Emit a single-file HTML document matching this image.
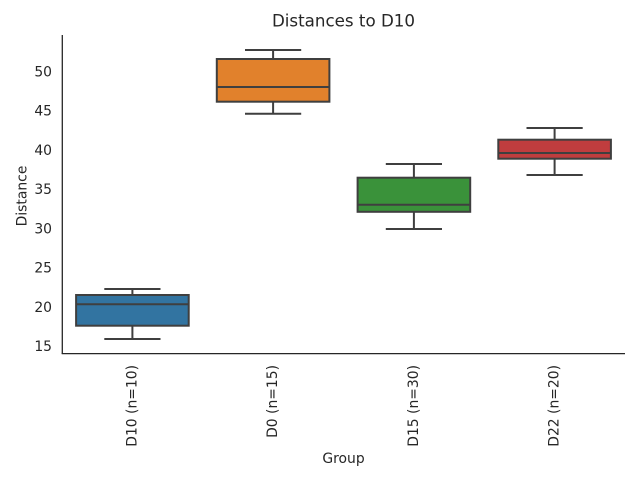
<!DOCTYPE html>
<html>
<head>
<meta charset="utf-8">
<style>
  html, body { margin: 0; padding: 0; background: #ffffff; }
  svg { display: block; }
  text { font-family: "DejaVu Sans", "Liberation Sans", sans-serif; fill: #262626; }
</style>
</head>
<body>
<svg width="640" height="480" viewBox="0 0 640 480" xmlns="http://www.w3.org/2000/svg">
  <rect x="0" y="0" width="640" height="480" fill="#ffffff"/>

  <!-- Title -->
  <text x="343.5" y="26.5" font-size="16.7" text-anchor="middle">Distances to D10</text>

  <!-- Y tick labels -->
  <g font-size="13.9" text-anchor="end">
    <text x="52" y="76.3">50</text>
    <text x="52" y="115.5">45</text>
    <text x="52" y="154.8">40</text>
    <text x="52" y="194.0">35</text>
    <text x="52" y="233.3">30</text>
    <text x="52" y="272.5">25</text>
    <text x="52" y="311.8">20</text>
    <text x="52" y="351.0">15</text>
  </g>

  <!-- Y label -->
  <text transform="translate(26.5,196) rotate(-90)" font-size="13.9" text-anchor="middle">Distance</text>

  <!-- Boxes -->
  <g stroke="#3f3f3f" stroke-width="2" fill="none">
    <!-- D10 -->
    <line x1="132.4" y1="289" x2="132.4" y2="295"/>
    <line x1="132.4" y1="325.7" x2="132.4" y2="339"/>
    <line x1="104.3" y1="289" x2="160.5" y2="289"/>
    <line x1="104.3" y1="339" x2="160.5" y2="339"/>
    <rect x="76.1" y="295" width="112.6" height="30.7" fill="#3274a1"/>
    <line x1="76.1" y1="304.3" x2="188.7" y2="304.3"/>

    <!-- D0 -->
    <line x1="273.1" y1="50" x2="273.1" y2="59"/>
    <line x1="273.1" y1="101.7" x2="273.1" y2="113.7"/>
    <line x1="245" y1="50" x2="301.2" y2="50"/>
    <line x1="245" y1="113.7" x2="301.2" y2="113.7"/>
    <rect x="216.8" y="59" width="112.6" height="42.7" fill="#e1812c"/>
    <line x1="216.8" y1="87" x2="329.4" y2="87"/>

    <!-- D15 -->
    <line x1="413.9" y1="164" x2="413.9" y2="177.7"/>
    <line x1="413.9" y1="211.8" x2="413.9" y2="229"/>
    <line x1="385.8" y1="164" x2="442" y2="164"/>
    <line x1="385.8" y1="229" x2="442" y2="229"/>
    <rect x="357.6" y="177.7" width="112.6" height="34.1" fill="#3a923a"/>
    <line x1="357.6" y1="204.8" x2="470.2" y2="204.8"/>

    <!-- D22 -->
    <line x1="554.6" y1="128" x2="554.6" y2="139.7"/>
    <line x1="554.6" y1="158.7" x2="554.6" y2="175"/>
    <line x1="526.5" y1="128" x2="582.7" y2="128"/>
    <line x1="526.5" y1="175" x2="582.7" y2="175"/>
    <rect x="498.3" y="139.7" width="112.6" height="19" fill="#c03d3e"/>
    <line x1="498.3" y1="153" x2="610.9" y2="153"/>
  </g>

  <!-- Spines -->
  <g stroke="#262626" stroke-width="1.3" fill="none">
    <line x1="62.3" y1="35" x2="62.3" y2="354"/>
    <line x1="61.7" y1="353.6" x2="625" y2="353.6"/>
  </g>

  <!-- X tick labels -->
  <g font-size="13.9" text-anchor="end">
    <text transform="translate(136.4,365) rotate(-90)">D10 (n=10)</text>
    <text transform="translate(277.1,365) rotate(-90)">D0 (n=15)</text>
    <text transform="translate(417.9,365) rotate(-90)">D15 (n=30)</text>
    <text transform="translate(558.6,365) rotate(-90)">D22 (n=20)</text>
  </g>

  <!-- X label -->
  <text x="343.5" y="463" font-size="13.9" text-anchor="middle">Group</text>
</svg>
</body>
</html>
